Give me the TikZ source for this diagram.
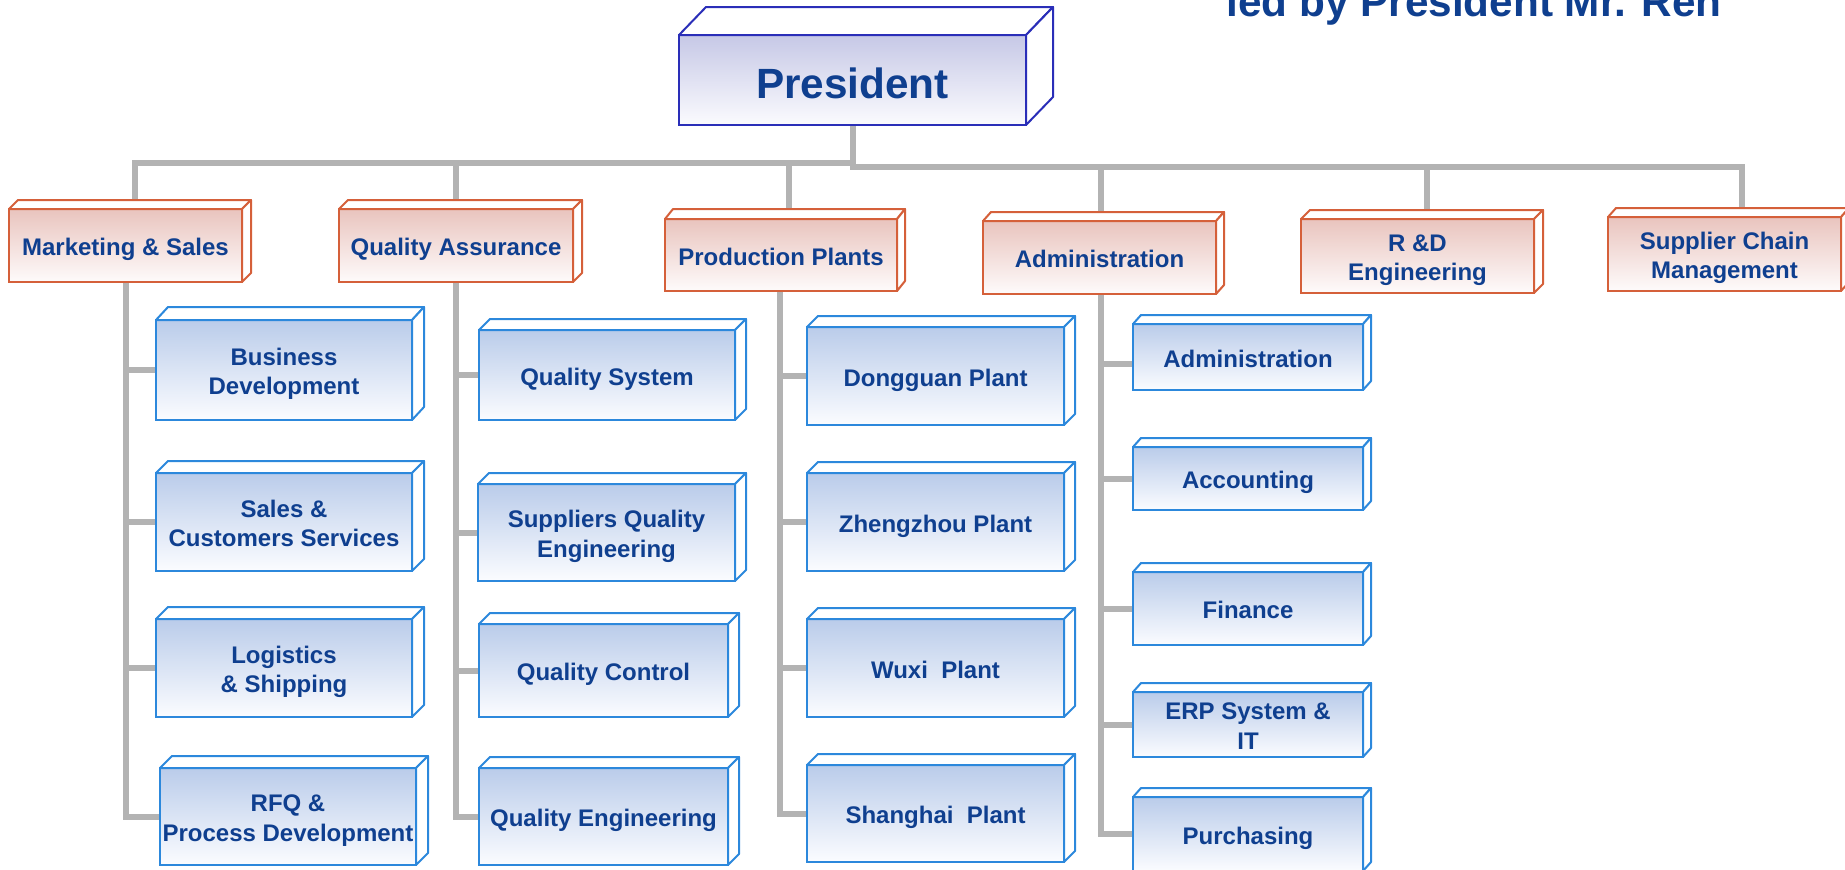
\documentclass[tikz,border=0pt]{standalone}
\usepackage{fontspec}
\setmainfont{Liberation Sans}
\usetikzlibrary{calc}
\pgfdeclarelayer{background}
\pgfsetlayers{background,main}
\definecolor{txt}{RGB}{15,63,143}
\definecolor{bluline}{RGB}{44,136,220}
\definecolor{blutop}{RGB}{186,204,234}
\definecolor{blubot}{RGB}{251,252,255}
\definecolor{redline}{RGB}{213,96,58}
\definecolor{redtop}{RGB}{233,196,190}
\definecolor{redbot}{RGB}{254,251,251}
\definecolor{presline}{RGB}{42,46,184}
\definecolor{prestop}{RGB}{198,200,230}
\definecolor{presbot}{RGB}{251,251,254}
\definecolor{conncol}{RGB}{179,179,179}
\newcommand\obox[9]{%
  \pgfmathsetmacro\obw{(#5-#3)/2}%
  \pgfmathsetmacro\obh{(#6-#4)/2}%
  \node[#1, minimum width=\obw pt, minimum height=\obh pt] (#2) at ({(#3+#5)/2},{(#4+#6)/2}) {};
  \node[#1text] (#2-t) at ([yshift=-2pt]#2.center) {\vphantom{Hg}#9\vphantom{g}};
  \draw[#1edge] (#2.north west) -- ++(#7,-#8) -- ([shift={(#7,-#8)}]#2.north east) -- (#2.north east) -- cycle;
  \draw[#1edge] (#2.north east) -- ++(#7,-#8) -- ([shift={(#7,-#8)}]#2.south east) -- (#2.south east) -- cycle;
}
\begin{document}
\begin{tikzpicture}[x=0.5pt,y=-0.5pt,
  boxtext/.style={text=txt, font=\bfseries\fontsize{12}{14.7}\selectfont, align=center, inner sep=0pt, outer sep=0pt},
  blu/.style={draw=bluline, line width=1pt, top color=blutop, bottom color=blubot, inner sep=0pt, outer sep=0pt},
  blutext/.style={boxtext},
  bluedge/.style={draw=bluline, line width=1pt, fill=white, line join=round},
  red/.style={draw=redline, line width=1pt, top color=redtop, bottom color=redbot, inner sep=0pt, outer sep=0pt},
  redtext/.style={boxtext},
  rededge/.style={draw=redline, line width=1pt, fill=white, line join=round},
  pres/.style={draw=presline, line width=1pt, top color=prestop, bottom color=presbot, inner sep=0pt, outer sep=0pt},
  prestext/.style={boxtext, font=\bfseries\fontsize{21.15}{25}\selectfont, yshift=-1.75pt},
  presedge/.style={draw=presline, line width=1pt, fill=white, line join=round},
  conn/.style={draw=conncol, line width=3pt}]
\useasboundingbox (0,0) rectangle (1845,869);
\clip (0,0) rectangle (1845,869);

% title (cut off at the top, as in the original)
\node[anchor=base west, inner sep=0pt, text=txt, font=\bfseries\fontsize{21.15}{25}\selectfont] (title) at (1226,16) {led by President Mr. Ren};

% president
\obox{pres}{pres}{679}{35}{1026}{125}{27}{28}{President}

% level 1
\obox{red}{mkt}{9}{209}{242}{282}{9}{9}{Marketing \& Sales}
\obox{red}{qa}{339}{209}{573}{282}{9}{9}{Quality Assurance}
\obox{red}{prod}{665}{219}{897}{291}{8}{10}{Production Plants}
\obox{red}{adm}{983}{221}{1216}{294}{8}{9}{Administration}
\obox{red}{rd}{1301}{219}{1534}{293}{9}{9}{R \&D\\Engineering}
\obox{red}{scm}{1608}{217}{1841}{291}{8}{9}{Supplier Chain\\Management}

% column 1
\obox{blu}{bd}{156}{320}{412}{420}{12}{13}{Business\\Development}
\obox{blu}{scs}{156}{473}{412}{571}{12}{12}{Sales \&\\Customers Services}
\obox{blu}{log}{156}{619}{412}{717}{12}{12}{Logistics\\\& Shipping}
\obox{blu}{rfq}{160}{768}{416}{865}{12}{12}{RFQ \&\\Process Development}

% column 2
\obox{blu}{qs}{479}{330}{735}{420}{11}{11}{Quality System}
\obox{blu}{sqe}{478}{484}{735}{581}{11}{11}{Suppliers Quality\\Engineering}
\obox{blu}{qc}{479}{624}{728}{717}{11}{11}{Quality Control}
\obox{blu}{qe}{479}{768}{728}{865}{11}{11}{Quality Engineering}

% column 3
\obox{blu}{dg}{807}{327}{1064}{425}{11}{11}{Dongguan Plant}
\obox{blu}{zz}{807}{473}{1064}{571}{11}{11}{Zhengzhou Plant}
\obox{blu}{wx}{807}{619}{1064}{717}{11}{11}{Wuxi\ \ Plant}
\obox{blu}{sh}{807}{765}{1064}{862}{11}{11}{Shanghai\ \ Plant}

% column 4
\obox{blu}{a2}{1133}{324}{1363}{390}{8}{9}{Administration}
\obox{blu}{acc}{1133}{447}{1363}{510}{8}{9}{Accounting}
\obox{blu}{fin}{1133}{572}{1363}{645}{8}{9}{Finance}
\obox{blu}{erp}{1133}{692}{1363}{757}{8}{9}{ERP System \&\\IT}
\obox{blu}{pur}{1133}{797}{1363}{871}{8}{9}{Purchasing}

% connectors
\begin{pgfonlayer}{background}
\coordinate (busL) at (852.5,163);
\coordinate (busR) at (852.5,166.5);
\draw[conn] (pres.south) -- (busL) -| ([xshift=4.75pt]mkt.north);
\draw[conn] (busL) -| (qa.north);
\draw[conn] (busL) -| ([xshift=4pt]prod.north);
\draw[conn] (pres.south) -- (busR) -| ([xshift=0.75pt]adm.north);
\draw[conn] (busR) -| ([xshift=4.5pt]rd.north);
\draw[conn] (busR) -| ([xshift=8.75pt]scm.north);
\foreach \b in {bd,scs,log,rfq} \draw[conn] (mkt.south) |- (\b.west);
\foreach \b in {qs,sqe,qc,qe} \draw[conn] (qa.south) |- (\b.west);
\foreach \b in {dg,zz,wx,sh} \draw[conn] ([xshift=-0.5pt]prod.south) |- (\b.west);
\draw[conn] ([xshift=0.75pt]adm.south) |- ([yshift=-3.5pt]a2.west);
\foreach \b in {acc,fin,erp,pur} \draw[conn] ([xshift=0.75pt]adm.south) |- (\b.west);
\end{pgfonlayer}
\end{tikzpicture}
\end{document}
